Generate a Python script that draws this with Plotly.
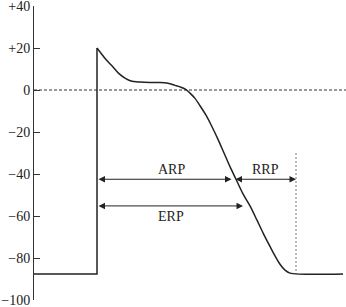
import plotly.graph_objects as go

# Y axis ticks
tick_vals = [40, 20, 0, -20, -40, -60, -80, -100]
tick_text = ["+40", "+20", "0", "\u221220", "\u221240", "\u221260", "\u221280", "\u2212100"]

# Resting + upstroke (time in arbitrary units, membrane potential in mV)
rest_t = [0, 63, 63]
rest_v = [-87.6, -87.6, 20]

# Repolarisation curve
curve_t = [63, 67, 72, 79, 85, 91, 97, 106, 116, 126, 134, 141, 147, 152, 156, 161,
           166, 172, 178, 184, 190, 196, 202, 209, 216, 223, 229, 236, 241, 246, 251, 256, 309]
curve_v = [20, 17.5, 14.5, 11, 7.8, 5.7, 4.3, 3.8, 3.6, 3.6, 3.2, 2.2, 1.3, 0.2, -1.5, -4,
           -7.5, -12, -17.5, -23.5, -30, -36.5, -42.5, -49.5, -55.2, -62, -68, -74.5, -79,
           -83, -85.8, -87.2, -87.6]

# Refractory periods: (label, start, end, level)
periods = ["ARP", "RRP", "ERP"]
p_start = [63, 200, 63]
p_end = [197.5, 262, 209]
p_level = [-42.5, -42.5, -55.2]
label_t = [137, 231, 137]
label_v = [-37.8, -37.8, -60.3]

zero_t = [0, 312]
rrp_marker_t = [262, 262]
rrp_marker_v = [-30, -87.6]

ink = "#222222"
fig = go.Figure()
fig.add_trace(go.Scatter(x=zero_t, y=[0, 0], mode="lines",
                         line=dict(color="#333333", width=1, dash="3px,2px"), hoverinfo="skip"))
fig.add_trace(go.Scatter(x=rrp_marker_t, y=rrp_marker_v, mode="lines",
                         line=dict(color="#777777", width=1, dash="2px,2px"), hoverinfo="skip"))
fig.add_trace(go.Scatter(x=rest_t, y=rest_v, mode="lines",
                         line=dict(color=ink, width=1.5), hoverinfo="skip"))
fig.add_trace(go.Scatter(x=curve_t, y=curve_v, mode="lines",
                         line=dict(color=ink, width=1.5, shape="spline", smoothing=0.8),
                         hoverinfo="skip"))

for name, s, e, lv, lt, lvv in zip(periods, p_start, p_end, p_level, label_t, label_v):
    fig.add_annotation(x=e, y=lv, ax=s, ay=lv, xref="x", yref="y", axref="x", ayref="y",
                       text="", showarrow=True, arrowhead=2, arrowside="end+start",
                       arrowsize=1.3, arrowwidth=1, arrowcolor=ink, standoff=0, startstandoff=0)
    fig.add_annotation(x=lt, y=lvv, text=name, showarrow=False, xref="x", yref="y",
                       font=dict(family="Liberation Serif", size=14, color="#222222"))

fig.update_layout(
    width=346, height=307,
    margin=dict(l=34, r=0, t=6, b=7),
    plot_bgcolor="white", paper_bgcolor="white",
    showlegend=False,
    xaxis=dict(range=[0, 312], visible=False, fixedrange=True),
    yaxis=dict(range=[-100, 40], tickvals=tick_vals, ticktext=tick_text,
               showline=True, linecolor="#333333", linewidth=1,
               ticks="inside", ticklen=6, tickcolor="#333333", showgrid=False,
               zeroline=False, ticklabeloverflow="allow", automargin=False,
               tickfont=dict(family="Liberation Serif", size=14, color="#222222")),
)
fig.write_html("out.html")
